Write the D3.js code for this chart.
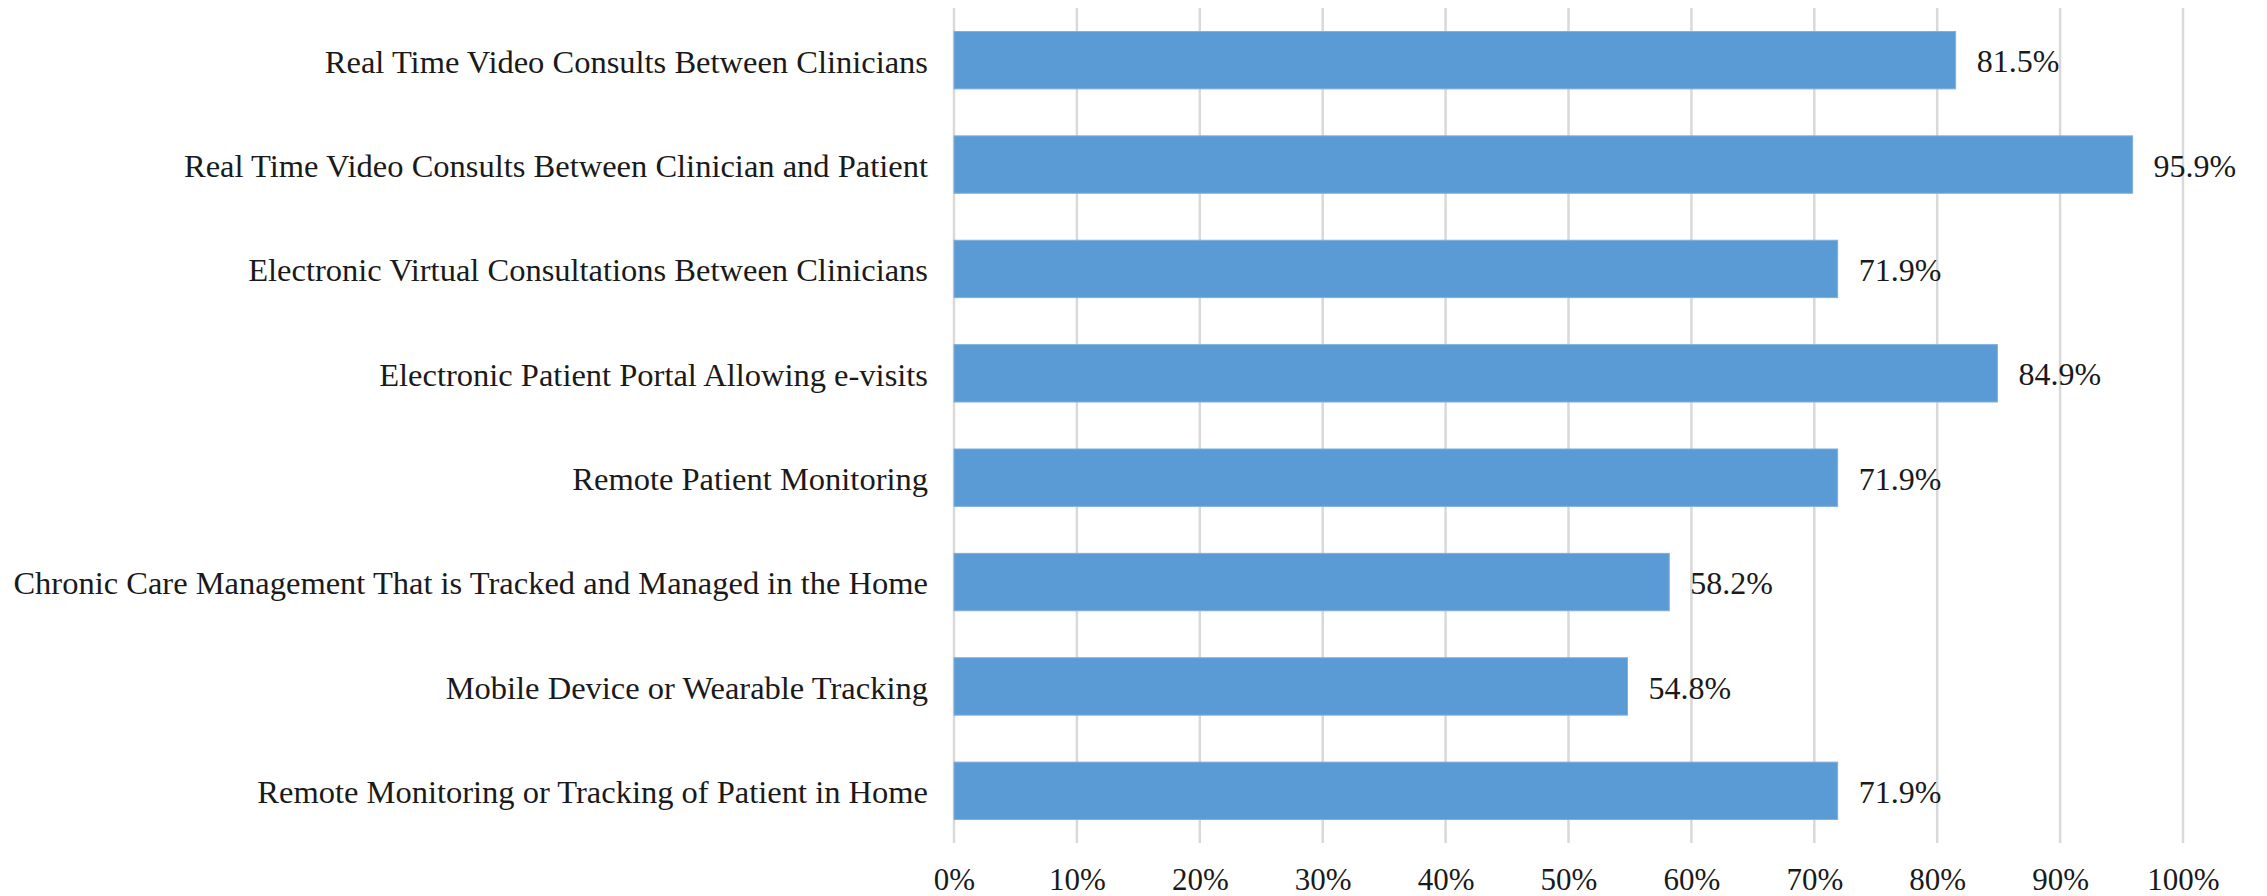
<!DOCTYPE html>
<html lang="en">
	<head>
		<meta charset="utf-8">
		<title>Telehealth services bar chart</title>
		<script type="text/javascript" src="https://cdn.jsdelivr.net/npm/d3@7"></script>
		<style type="text/css">
			body { margin: 0; background: #fff; }
			text { font-family: "Liberation Serif", "Times New Roman", serif; fill: #1a1a1a; }
		</style>
	</head>
	<body>
		<script type="text/javascript">
			var categories = [
				"Real Time Video Consults Between Clinicians",
				"Real Time Video Consults Between Clinician and Patient",
				"Electronic Virtual Consultations Between Clinicians",
				"Electronic Patient Portal Allowing e-visits",
				"Remote Patient Monitoring",
				"Chronic Care Management That is Tracked and Managed in the Home",
				"Mobile Device or Wearable Tracking",
				"Remote Monitoring or Tracking of Patient in Home"
			];
			var values = [81.5, 95.9, 71.9, 84.9, 71.9, 58.2, 54.8, 71.9];
			var tickValues = [0, 10, 20, 30, 40, 50, 60, 70, 80, 90, 100];

			var w = 2267;
			var h = 896;
			var plotLeft = 954, plotRight = 2183, plotTop = 8, plotBottom = 843;

			var xScale = d3.scaleLinear()
							.domain([0, 100])
							.range([plotLeft, plotRight]);
			var yScale = d3.scaleBand()
							.domain(categories)
							.range([plotTop, plotBottom])
							.paddingInner(0.45)
							.paddingOuter(0.225);

			var svg = d3.select("body")
							.append("svg")
							.attr("width", w)
							.attr("height", h);

			//gridlines
			svg.append("g")
				.selectAll("line")
				.data(tickValues)
				.enter()
				.append("line")
				.attr("x1", function(d) { return xScale(d); })
				.attr("x2", function(d) { return xScale(d); })
				.attr("y1", plotTop)
				.attr("y2", plotBottom)
				.attr("stroke", "#d9d9d9")
				.attr("stroke-width", 2.5);

			//x axis labels
			var xAxis = d3.axisBottom(xScale)
							.tickValues(tickValues)
							.tickSize(0)
							.tickPadding(0)
							.tickFormat(function(d) { return d + "%"; });
			var gx = svg.append("g")
				.attr("transform", "translate(0," + (plotBottom + 25) + ")")
				.call(xAxis);
			gx.select(".domain").remove();
			gx.selectAll("text")
				.attr("font-size", "31px")
				.attr("font-family", null)
				.attr("fill", "#1a1a1a");

			//bars
			svg.selectAll("rect.bar")
				.data(values)
				.enter()
				.append("rect")
				.attr("class", "bar")
				.attr("x", xScale(0))
				.attr("y", function(d, i) { return yScale(categories[i]); })
				.attr("width", function(d) { return xScale(d) - xScale(0); })
				.attr("height", yScale.bandwidth())
				.attr("fill", "#5b9bd5")
				.attr("stroke", "#7fb0df")
				.attr("stroke-width", 1);

			//category labels
			var yAxis = d3.axisLeft(yScale)
							.tickSize(0)
							.tickPadding(26);
			var gy = svg.append("g")
				.attr("transform", "translate(" + plotLeft + ",0)")
				.call(yAxis);
			gy.select(".domain").remove();
			gy.selectAll("text")
				.attr("font-size", "32.5px")
				.attr("font-family", null)
				.attr("fill", "#1a1a1a")
				.attr("dy", "0.38em");

			//value labels
			svg.selectAll("text.value")
				.data(values)
				.enter()
				.append("text")
				.attr("class", "value")
				.text(function(d) { return d.toFixed(1) + "%"; })
				.attr("x", function(d) { return xScale(d) + 21; })
				.attr("y", function(d, i) { return yScale(categories[i]) + yScale.bandwidth() / 2; })
				.attr("dy", "0.38em")
				.attr("font-size", "32px");
		</script>
	</body>
</html>
